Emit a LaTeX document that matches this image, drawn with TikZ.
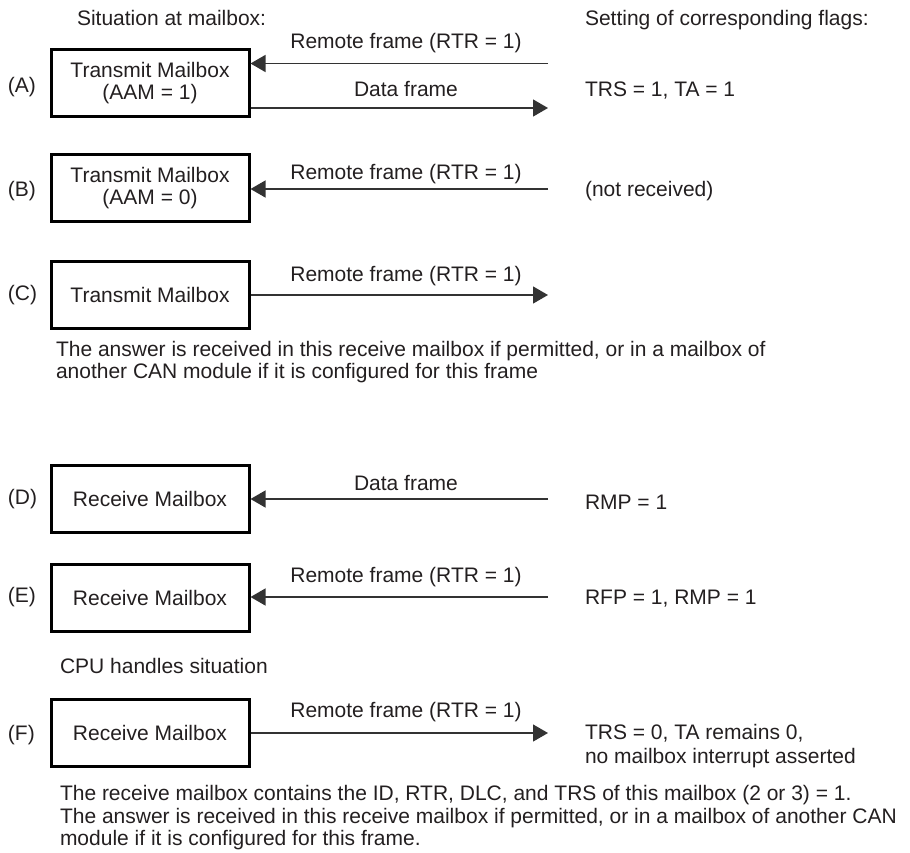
\documentclass[tikz,border=0pt]{standalone}
\usepackage{fontspec}
\setmainfont{Liberation Sans}
\usetikzlibrary{arrows.meta}
\definecolor{txt}{HTML}{231F20}
\definecolor{lin}{HTML}{333333}
\begin{document}
\begin{tikzpicture}[x=1pt,y=-1pt,
  every node/.style={font=\fontsize{21}{21.6}\selectfont, text=txt, inner sep=0pt, outer sep=0pt},
  mbox/.style={draw=black, line width=3pt, minimum width=198pt, minimum height=67pt, align=center, outer sep=1.5pt},
  sig/.style={draw=lin, line width=1.3pt, -{Triangle[length=15pt,width=17pt]}},
  lbl/.style={anchor=base},
  txtl/.style={anchor=base west},
]
\useasboundingbox (0,0) rectangle (910,852);
% headings
\node[txtl] (h1) at (77,25.5) {Situation at mailbox:};
\node[txtl] (h2) at (585,25.5) {Setting of corresponding flags:};

% (A)
\node[txtl] (la) at (8,92) {(A)};
\node[mbox] (A) at (150,83.3) {Transmit Mailbox\\(AAM = 1)};
\coordinate (Ar) at (548,63.5);
\coordinate (Ad) at (548,108);
\draw[sig] (Ar) -- (Ar -| A.east);
\draw[sig] (Ad -| A.east) -- (Ad);
\node[lbl] (tAr) at (406,48.5) {Remote frame (RTR = 1)};
\node[lbl] (tAd) at (406,96.7) {Data frame};
\node[txtl] (fA) at (585,96.5) {TRS = 1, TA = 1};

% (B)
\node[txtl] (lb) at (8,196.5) {(B)};
\node[mbox] (B) at (150,188) {Transmit Mailbox\\(AAM = 0)};
\coordinate (Br) at (548,189);
\draw[sig] (Br) -- (Br -| B.east);
\node[lbl] (tBr) at (406,179.5) {Remote frame (RTR = 1)};
\node[txtl] (fB) at (585,196.5) {(not received)};

% (C)
\node[txtl] (lc) at (8,300.5) {(C)};
\node[mbox] (C) at (150,295) {Transmit Mailbox};
\coordinate (Cr) at (548,295);
\draw[sig] (Cr -| C.east) -- (Cr);
\node[lbl] (tCr) at (406,281) {Remote frame (RTR = 1)};
\node[txtl] (pC1) at (56,356.7) {The answer is received in this receive mailbox if permitted, or in a mailbox of};
\node[txtl] (pC2) at (56,378.3) {another CAN module if it is configured for this frame};

% (D)
\node[txtl] (ld) at (8,504.5) {(D)};
\node[mbox] (D) at (150,498.5) {Receive Mailbox};
\coordinate (Dr) at (548,499);
\draw[sig] (Dr) -- (Dr -| D.east);
\node[lbl] (tDr) at (406,490.5) {Data frame};
\node[txtl] (fD) at (585,509.5) {RMP = 1};

% (E)
\node[txtl] (le) at (8,602.5) {(E)};
\node[mbox] (E) at (150,597.5) {Receive Mailbox};
\coordinate (Er) at (548,597);
\draw[sig] (Er) -- (Er -| E.east);
\node[lbl] (tEr) at (406,582.5) {Remote frame (RTR = 1)};
\node[txtl] (fE) at (585,604.5) {RFP = 1, RMP = 1};

\node[txtl] (cpu) at (60,673.5) {CPU handles situation};

% (F)
\node[txtl] (lf) at (8,740) {(F)};
\node[mbox] (F) at (150,733) {Receive Mailbox};
\coordinate (Fr) at (548,733);
\draw[sig] (Fr -| F.east) -- (Fr);
\node[lbl] (tFr) at (406,717.5) {Remote frame (RTR = 1)};
\node[txtl] (fF1) at (585,739.3) {TRS = 0, TA remains 0,};
\node[txtl] (fF2) at (585,763) {no mailbox interrupt asserted};
\node[txtl] (pF1) at (60,800.5) {The receive mailbox contains the ID, RTR, DLC, and TRS of this mailbox (2 or 3) = 1.};
\node[txtl] (pF2) at (60,823) {The answer is received in this receive mailbox if permitted, or in a mailbox of another CAN};
\node[txtl] (pF3) at (60,845.5) {module if it is configured for this frame.};
\end{tikzpicture}
\end{document}
